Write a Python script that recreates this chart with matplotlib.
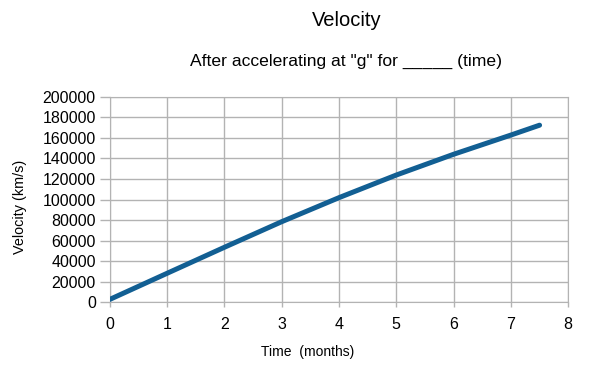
import matplotlib
matplotlib.use("Agg")
import matplotlib.pyplot as plt

plt.rcParams['font.family'] = ['Liberation Sans', 'DejaVu Sans']

# velocity after constant 1 g acceleration
months = [0, 1, 2, 3, 4, 5, 6, 7, 7.5]
velocity = [2800, 28200, 53500, 78400, 101800, 123800, 144000, 162700, 172300]

xticks = [0, 1, 2, 3, 4, 5, 6, 7, 8]
yticks = list(range(0, 200001, 20000))

fig = plt.figure(figsize=(5.95, 3.68), dpi=100)
ax = fig.add_axes([0.1844, 0.1785, 0.7706, 0.5587])

ax.plot(months, velocity, color='#125f93', lw=3.6, solid_capstyle='round', zorder=3)

ax.set_xlim(0, 8)
ax.set_ylim(0, 200000)
ax.set_xticks(xticks)
ax.set_yticks(yticks)
ax.set_yticklabels([str(v) for v in yticks])
ax.grid(True, color='#b3b3b3', lw=1)
ax.set_axisbelow(True)
for s in ax.spines.values():
    s.set_color('#b3b3b3')
ax.tick_params(colors='#b3b3b3', labelcolor='black', labelsize=11.5, width=1)
ax.tick_params(axis='y', length=7, pad=3)
ax.tick_params(axis='x', length=3.5, pad=7)

ax.set_xlabel('Time  (months)', fontsize=10)
ax.set_ylabel('Velocity (km/s)', fontsize=10.4)
ax.xaxis.set_label_coords(0.432, -0.206)
ax.yaxis.set_label_coords(-0.181, 0.466)

fig.text(0.582, 0.945, 'Velocity', ha='center', va='center', fontsize=14.5)
fig.text(0.582, 0.832, 'After accelerating at "g" for _____ (time)', ha='center', va='center', fontsize=12.6)

fig.savefig('out.png', dpi=100)
